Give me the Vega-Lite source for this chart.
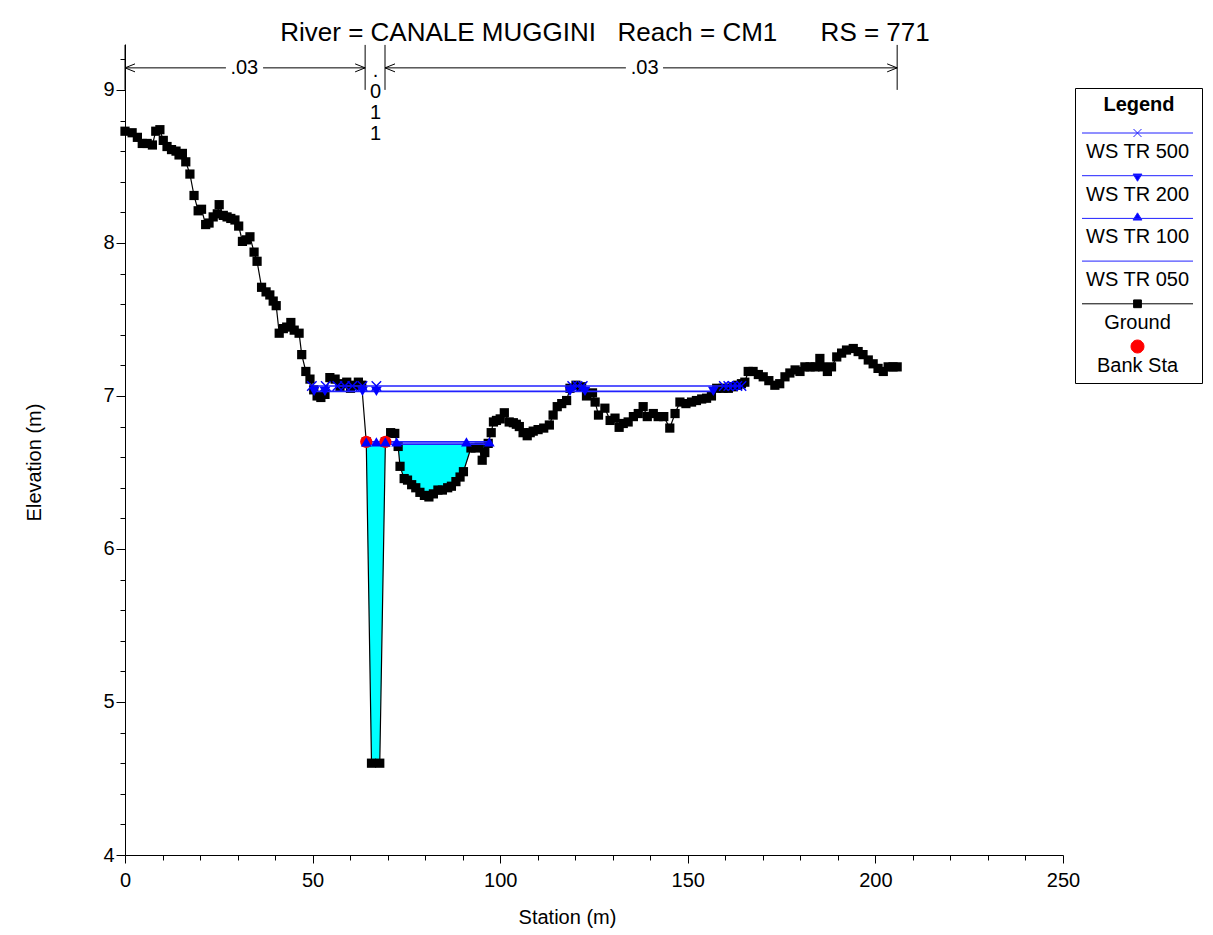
{
  "$schema": "https://vega.github.io/schema/vega-lite/v6.json",
  "width": 938,
  "height": 811,
  "autosize": "none",
  "padding": {"left": 125, "top": 44, "right": 150, "bottom": 80},
  "background": "white",
  "title": {
    "text": "River = CANALE MUGGINI\u00a0\u00a0\u00a0Reach = CM1\u00a0\u00a0\u00a0\u00a0\u00a0\u00a0RS = 771",
    "fontSize": 26,
    "font": "Liberation Sans",
    "fontWeight": "normal",
    "color": "black",
    "anchor": "middle",
    "frame": "group",
    "baseline": "alphabetic",
    "offset": 4,
    "dx": 11,
    "dy": 27
  },
  "config": {
    "view": {"stroke": null},
    "font": "Liberation Sans",
    "axis": {
      "domainColor": "black",
      "tickColor": "black",
      "labelColor": "black",
      "titleColor": "black",
      "labelFontSize": 20,
      "titleFontSize": 20,
      "titleFontWeight": "normal",
      "labelFont": "Liberation Sans",
      "titleFont": "Liberation Sans",
      "domainWidth": 1,
      "tickWidth": 1,
      "grid": false
    }
  },
  "datasets": {
    "ground": [
      {"st": 0.0, "el": 8.73}, {"st": 1.9, "el": 8.72}, {"st": 3.3, "el": 8.69}, {"st": 4.6, "el": 8.65},
      {"st": 5.9, "el": 8.65}, {"st": 7.3, "el": 8.64}, {"st": 8.2, "el": 8.73}, {"st": 9.3, "el": 8.74},
      {"st": 10.2, "el": 8.67}, {"st": 11.2, "el": 8.63}, {"st": 12.4, "el": 8.61}, {"st": 13.6, "el": 8.6},
      {"st": 14.4, "el": 8.575}, {"st": 15.3, "el": 8.585}, {"st": 16.2, "el": 8.53}, {"st": 17.3, "el": 8.45},
      {"st": 18.4, "el": 8.31}, {"st": 19.5, "el": 8.21}, {"st": 20.4, "el": 8.22}, {"st": 21.5, "el": 8.12},
      {"st": 22.4, "el": 8.13}, {"st": 23.5, "el": 8.17}, {"st": 24.6, "el": 8.19}, {"st": 25.1, "el": 8.25},
      {"st": 26.2, "el": 8.18}, {"st": 27.2, "el": 8.17}, {"st": 28.2, "el": 8.16}, {"st": 29.3, "el": 8.15},
      {"st": 30.3, "el": 8.11}, {"st": 31.3, "el": 8.01}, {"st": 32.4, "el": 8.02}, {"st": 33.3, "el": 8.04},
      {"st": 34.4, "el": 7.94}, {"st": 35.2, "el": 7.88}, {"st": 36.4, "el": 7.71}, {"st": 37.6, "el": 7.68},
      {"st": 38.6, "el": 7.66}, {"st": 39.5, "el": 7.62}, {"st": 40.3, "el": 7.59}, {"st": 41.1, "el": 7.41},
      {"st": 42.2, "el": 7.44}, {"st": 43.1, "el": 7.45}, {"st": 44.2, "el": 7.48}, {"st": 45.1, "el": 7.43},
      {"st": 46.4, "el": 7.41}, {"st": 47.1, "el": 7.27}, {"st": 48.2, "el": 7.16}, {"st": 49.3, "el": 7.11},
      {"st": 50.3, "el": 7.04}, {"st": 51.2, "el": 7.0}, {"st": 52.2, "el": 6.99}, {"st": 53.3, "el": 7.01},
      {"st": 54.6, "el": 7.12}, {"st": 56.0, "el": 7.11}, {"st": 57.3, "el": 7.06}, {"st": 58.2, "el": 7.08},
      {"st": 59.1, "el": 7.09}, {"st": 60.1, "el": 7.05}, {"st": 61.2, "el": 7.07}, {"st": 62.2, "el": 7.09},
      {"st": 63.1, "el": 7.07}, {"st": 64.3, "el": 6.7}, {"st": 65.7, "el": 4.6}, {"st": 67.9, "el": 4.6},
      {"st": 69.4, "el": 6.7}, {"st": 70.8, "el": 6.76}, {"st": 71.9, "el": 6.755}, {"st": 72.8, "el": 6.67},
      {"st": 73.3, "el": 6.54}, {"st": 74.4, "el": 6.46}, {"st": 75.3, "el": 6.45}, {"st": 76.4, "el": 6.42},
      {"st": 77.5, "el": 6.4}, {"st": 78.6, "el": 6.37}, {"st": 79.8, "el": 6.35}, {"st": 81.0, "el": 6.34},
      {"st": 82.2, "el": 6.36}, {"st": 83.4, "el": 6.385}, {"st": 84.6, "el": 6.385}, {"st": 86.0, "el": 6.4},
      {"st": 87.0, "el": 6.41}, {"st": 88.2, "el": 6.44}, {"st": 89.3, "el": 6.47}, {"st": 90.2, "el": 6.505},
      {"st": 92.2, "el": 6.66}, {"st": 93.4, "el": 6.66}, {"st": 94.4, "el": 6.665}, {"st": 95.2, "el": 6.58},
      {"st": 95.9, "el": 6.63}, {"st": 96.8, "el": 6.69}, {"st": 97.6, "el": 6.76}, {"st": 98.2, "el": 6.83},
      {"st": 99.0, "el": 6.84}, {"st": 100.0, "el": 6.85}, {"st": 101.1, "el": 6.89}, {"st": 102.4, "el": 6.83},
      {"st": 103.5, "el": 6.825}, {"st": 104.3, "el": 6.815}, {"st": 105.1, "el": 6.8}, {"st": 106.1, "el": 6.76},
      {"st": 107.2, "el": 6.74}, {"st": 108.0, "el": 6.76}, {"st": 108.8, "el": 6.77}, {"st": 110.1, "el": 6.78},
      {"st": 111.6, "el": 6.79}, {"st": 113.1, "el": 6.81}, {"st": 114.1, "el": 6.875}, {"st": 115.2, "el": 6.93},
      {"st": 116.4, "el": 6.95}, {"st": 117.7, "el": 6.97}, {"st": 118.6, "el": 7.05}, {"st": 120.2, "el": 7.07},
      {"st": 121.7, "el": 7.06}, {"st": 123.0, "el": 7.0}, {"st": 124.6, "el": 7.02}, {"st": 125.3, "el": 6.96},
      {"st": 126.2, "el": 6.875}, {"st": 127.9, "el": 6.92}, {"st": 129.3, "el": 6.84}, {"st": 130.6, "el": 6.855},
      {"st": 131.7, "el": 6.795}, {"st": 132.8, "el": 6.82}, {"st": 134.1, "el": 6.83}, {"st": 135.5, "el": 6.865},
      {"st": 136.8, "el": 6.885}, {"st": 138.1, "el": 6.93}, {"st": 139.2, "el": 6.865}, {"st": 140.8, "el": 6.885},
      {"st": 142.1, "el": 6.865}, {"st": 143.6, "el": 6.865}, {"st": 145.2, "el": 6.79}, {"st": 146.6, "el": 6.885},
      {"st": 147.9, "el": 6.96}, {"st": 149.5, "el": 6.95}, {"st": 151.0, "el": 6.96}, {"st": 152.3, "el": 6.97},
      {"st": 153.7, "el": 6.98}, {"st": 155.0, "el": 6.985}, {"st": 156.3, "el": 7.0}, {"st": 157.7, "el": 7.05},
      {"st": 159.4, "el": 7.05}, {"st": 160.8, "el": 7.05}, {"st": 162.1, "el": 7.06}, {"st": 163.3, "el": 7.07},
      {"st": 164.3, "el": 7.08}, {"st": 165.2, "el": 7.09}, {"st": 166.1, "el": 7.16}, {"st": 167.4, "el": 7.16},
      {"st": 168.8, "el": 7.14}, {"st": 170.1, "el": 7.125}, {"st": 171.6, "el": 7.1}, {"st": 173.2, "el": 7.07},
      {"st": 174.5, "el": 7.08}, {"st": 175.9, "el": 7.125}, {"st": 177.2, "el": 7.15}, {"st": 178.6, "el": 7.17},
      {"st": 179.9, "el": 7.16}, {"st": 181.2, "el": 7.19}, {"st": 182.6, "el": 7.19}, {"st": 183.9, "el": 7.19},
      {"st": 185.2, "el": 7.245}, {"st": 185.9, "el": 7.19}, {"st": 187.2, "el": 7.16}, {"st": 188.3, "el": 7.19},
      {"st": 189.7, "el": 7.255}, {"st": 191.0, "el": 7.28}, {"st": 192.3, "el": 7.3}, {"st": 194.1, "el": 7.31},
      {"st": 195.4, "el": 7.29}, {"st": 196.7, "el": 7.27}, {"st": 198.1, "el": 7.235}, {"st": 199.4, "el": 7.21},
      {"st": 200.7, "el": 7.18}, {"st": 202.1, "el": 7.16}, {"st": 203.4, "el": 7.19}, {"st": 204.7, "el": 7.19},
      {"st": 205.8, "el": 7.19}
    ],
    "fill": [
      {"seg": "slot", "st": 64.31, "el": 6.685, "ws": 6.685},
      {"seg": "slot", "st": 65.7, "el": 4.6, "ws": 6.685},
      {"seg": "slot", "st": 67.9, "el": 4.6, "ws": 6.685},
      {"seg": "slot", "st": 69.39, "el": 6.685, "ws": 6.685},
      {"seg": "bowl", "st": 72.64, "el": 6.685, "ws": 6.685},
      {"seg": "bowl", "st": 72.8, "el": 6.67, "ws": 6.685},
      {"seg": "bowl", "st": 73.3, "el": 6.54, "ws": 6.685},
      {"seg": "bowl", "st": 74.4, "el": 6.46, "ws": 6.685},
      {"seg": "bowl", "st": 75.3, "el": 6.45, "ws": 6.685},
      {"seg": "bowl", "st": 76.4, "el": 6.42, "ws": 6.685},
      {"seg": "bowl", "st": 77.5, "el": 6.4, "ws": 6.685},
      {"seg": "bowl", "st": 78.6, "el": 6.37, "ws": 6.685},
      {"seg": "bowl", "st": 79.8, "el": 6.35, "ws": 6.685},
      {"seg": "bowl", "st": 81.0, "el": 6.34, "ws": 6.685},
      {"seg": "bowl", "st": 82.2, "el": 6.36, "ws": 6.685},
      {"seg": "bowl", "st": 83.4, "el": 6.385, "ws": 6.685},
      {"seg": "bowl", "st": 84.6, "el": 6.385, "ws": 6.685},
      {"seg": "bowl", "st": 86.0, "el": 6.4, "ws": 6.685},
      {"seg": "bowl", "st": 87.0, "el": 6.41, "ws": 6.685},
      {"seg": "bowl", "st": 88.2, "el": 6.44, "ws": 6.685},
      {"seg": "bowl", "st": 89.3, "el": 6.47, "ws": 6.685},
      {"seg": "bowl", "st": 90.2, "el": 6.505, "ws": 6.685},
      {"seg": "bowl", "st": 92.2, "el": 6.66, "ws": 6.685},
      {"seg": "bowl", "st": 93.4, "el": 6.66, "ws": 6.685},
      {"seg": "bowl", "st": 94.4, "el": 6.665, "ws": 6.685},
      {"seg": "bowl", "st": 95.2, "el": 6.58, "ws": 6.685},
      {"seg": "bowl", "st": 95.9, "el": 6.63, "ws": 6.685},
      {"seg": "bowl", "st": 96.73, "el": 6.685, "ws": 6.685}
    ],
    "ws": [
      {"series": "WS TR 500", "st": 49.8, "el": 7.065}, {"series": "WS TR 500", "st": 53.5, "el": 7.065},
      {"series": "WS TR 500", "st": 56.6, "el": 7.065}, {"series": "WS TR 500", "st": 58.6, "el": 7.065},
      {"series": "WS TR 500", "st": 60.6, "el": 7.065}, {"series": "WS TR 500", "st": 63.3, "el": 7.065},
      {"series": "WS TR 500", "st": 67.0, "el": 7.065}, {"series": "WS TR 500", "st": 119.2, "el": 7.065},
      {"series": "WS TR 500", "st": 120.6, "el": 7.065}, {"series": "WS TR 500", "st": 122.0, "el": 7.065},
      {"series": "WS TR 500", "st": 159.6, "el": 7.065}, {"series": "WS TR 500", "st": 160.8, "el": 7.065},
      {"series": "WS TR 500", "st": 162.0, "el": 7.065}, {"series": "WS TR 500", "st": 163.2, "el": 7.065},
      {"series": "WS TR 500", "st": 164.3, "el": 7.065},
      {"series": "WS TR 200", "st": 50.4, "el": 7.03}, {"series": "WS TR 200", "st": 53.3, "el": 7.03},
      {"series": "WS TR 200", "st": 63.3, "el": 7.03}, {"series": "WS TR 200", "st": 67.0, "el": 7.03},
      {"series": "WS TR 200", "st": 118.6, "el": 7.03}, {"series": "WS TR 200", "st": 122.6, "el": 7.03},
      {"series": "WS TR 200", "st": 156.8, "el": 7.03},
      {"series": "WS TR 100", "st": 64.3, "el": 6.7}, {"series": "WS TR 100", "st": 67.0, "el": 6.7},
      {"series": "WS TR 100", "st": 69.4, "el": 6.7}, {"series": "WS TR 100", "st": 72.4, "el": 6.7},
      {"series": "WS TR 100", "st": 91.0, "el": 6.7}, {"series": "WS TR 100", "st": 97.1, "el": 6.7},
      {"series": "WS TR 050", "st": 64.31, "el": 6.685}, {"series": "WS TR 050", "st": 96.73, "el": 6.685}
    ],
    "bank": [
      {"st": 64.3, "el": 6.7}, {"st": 69.4, "el": 6.7}
    ],
    "nlines": [
      {"st": 0, "el": 9.0, "el2": 9.294}, {"st": 64.0, "el": 9.0, "el2": 9.294},
      {"st": 69.3, "el": 9.0, "el2": 9.294}, {"st": 205.8, "el": 9.0, "el2": 9.294}
    ],
    "narrows": [
      {"st": 0, "st2": 26.9, "el": 9.144}, {"st": 36.8, "st2": 64.0, "el": 9.144},
      {"st": 69.3, "st2": 133.5, "el": 9.144}, {"st": 143.4, "st2": 205.8, "el": 9.144}
    ],
    "nheads": [
      {"st": 0, "el": 9.144, "dir": "L"}, {"st": 64.0, "el": 9.144, "dir": "R"},
      {"st": 69.3, "el": 9.144, "dir": "L"}, {"st": 205.8, "el": 9.144, "dir": "R"}
    ],
    "ntext": [
      {"st": 31.8, "el": 9.144, "t": ".03"}, {"st": 138.5, "el": 9.144, "t": ".03"},
      {"st": 66.8, "el": 9.124, "t": "."}, {"st": 66.8, "el": 8.987, "t": "0"},
      {"st": 66.8, "el": 8.85, "t": "1"}, {"st": 66.8, "el": 8.712, "t": "1"}
    ]
  },
  "encoding": {
    "x": {
      "field": "st",
      "type": "quantitative",
      "scale": {"domain": [0, 250], "nice": false, "zero": false},
      "axis": {
        "title": "Station (m)",
        "values": [0, 10, 20, 30, 40, 50, 60, 70, 80, 90, 100, 110, 120, 130, 140, 150, 160, 170, 180, 190, 200, 210, 220, 230, 240, 250],
        "labelExpr": "datum.value % 50 === 0 ? datum.label : ''",
        "tickSize": {"condition": {"test": "datum.value % 50 === 0", "value": 8}, "value": 5},
        "labelFlush": false,
        "labelOverlap": false,
        "labelPadding": 7,
        "titleX": 442,
        "titleY": 62,
        "titleBaseline": "middle",
        "titleAlign": "center"
      }
    },
    "y": {
      "field": "el",
      "type": "quantitative",
      "scale": {"domain": [4, 9.3], "nice": false, "zero": false},
      "axis": {
        "title": "Elevation (m)",
        "values": [4, 4.2, 4.4, 4.6, 4.8, 5, 5.2, 5.4, 5.6, 5.8, 6, 6.2, 6.4, 6.6, 6.8, 7, 7.2, 7.4, 7.6, 7.8, 8, 8.2, 8.4, 8.6, 8.8, 9, 9.2],
        "labelExpr": "abs(datum.value - round(datum.value)) < 0.01 ? '' + round(datum.value) : ''",
        "tickSize": {"condition": {"test": "abs(datum.value - round(datum.value)) < 0.01", "value": 9}, "value": 5},
        "labelOverlap": false,
        "labelPadding": 2,
        "titleX": -91,
        "titleY": 418,
        "titleBaseline": "middle",
        "titleAlign": "center"
      }
    }
  },
  "layer": [
    {
      "data": {"name": "fill"},
      "mark": {"type": "area", "color": "#00ffff", "opacity": 1},
      "encoding": {"y2": {"field": "ws"}, "detail": {"field": "seg", "type": "nominal"}}
    },
    {
      "data": {"name": "ground"},
      "mark": {"type": "line", "color": "black", "strokeWidth": 1.2}
    },
    {
      "data": {"name": "ground"},
      "mark": {"type": "point", "shape": "square", "filled": true, "color": "black", "size": 85, "opacity": 1}
    },
    {
      "data": {"name": "ws"},
      "mark": {"type": "line", "strokeWidth": 1.6},
      "encoding": {
        "color": {
          "field": "series",
          "type": "nominal",
          "scale": {
            "domain": ["WS TR 500", "WS TR 200", "WS TR 100", "WS TR 050", "Ground", "Bank Sta"],
            "range": ["#2020ff", "#2020ff", "#2020ff", "#2020ff", "black", "red"]
          },
          "legend": {
            "title": "Legend",
            "orient": "none",
            "legendX": 950,
            "legendY": 44,
            "padding": 7,
            "strokeColor": "black",
            "fillColor": "white",
            "titleFont": "Liberation Sans",
            "titleFontSize": 20,
            "titleFontWeight": "bold",
            "titleColor": "black",
            "titleAnchor": "middle",
            "titlePadding": 18,
            "labelFont": "Liberation Sans",
            "labelFontSize": 20,
            "labelColor": "black",
            "rowPadding": 4.7,
            "symbolSize": 100,
            "encode": {
              "symbols": {
                "update": {
                  "shape": {"signal": "datum.value === 'WS TR 500' ? 'M0,-0.12M0,0.12M-1,0L1,0M-0.072,-0.072L0.072,0.072M-0.072,0.072L0.072,-0.072' : datum.value === 'WS TR 200' ? 'M0,-0.12M0,0.12M-1,0L1,0M-0.08,-0.03L0.08,-0.03L0,0.1Z' : datum.value === 'WS TR 100' ? 'M0,-0.12M0,0.12M-1,0L1,0M-0.08,0.03L0.08,0.03L0,-0.1Z' : datum.value === 'WS TR 050' ? 'M0,-0.12M0,0.12M-1,0L1,0' : datum.value === 'Ground' ? 'M0,-0.12M0,0.12M-1,0L1,0M-0.07,-0.07L0.07,-0.07L0.07,0.07L-0.07,0.07Z' : 'M0,-0.12M0,0.12M-0.117,0A0.117,0.117,0,1,0,0.117,0A0.117,0.117,0,1,0,-0.117,0Z'"},
                  "size": {"value": 12321},
                  "x": {"value": 55.5},
                  "y": {"value": 0},
                  "fill": {"signal": "datum.value === 'Ground' ? 'black' : datum.value === 'Bank Sta' ? 'red' : '#0000ff'"},
                  "stroke": {"signal": "datum.value === 'Ground' ? 'black' : datum.value === 'Bank Sta' ? 'red' : '#0000ff'"},
                  "strokeWidth": {"value": 1},
                  "opacity": {"value": 1}
                }
              },
              "labels": {
                "update": {
                  "x": {"value": 55.5},
                  "y": {"value": 19},
                  "align": {"value": "center"},
                  "baseline": {"value": "middle"}
                }
              }
            }
          }
        }
      }
    },
    {
      "data": {"name": "bank"},
      "mark": {"type": "point", "shape": "circle", "filled": true, "color": "red", "size": 150, "opacity": 1}
    },
    {
      "data": {"name": "ws"},
      "transform": [{"filter": "datum.series === 'WS TR 500'"}],
      "mark": {"type": "point", "shape": "M-1,-1L1,1M-1,1L1,-1", "filled": false, "color": "#0000ff", "strokeWidth": 1.4, "size": 90, "opacity": 1}
    },
    {
      "data": {"name": "ws"},
      "transform": [{"filter": "datum.series === 'WS TR 200'"}],
      "mark": {"type": "point", "shape": "triangle-down", "filled": true, "color": "#0000ff", "size": 115, "opacity": 1}
    },
    {
      "data": {"name": "ws"},
      "transform": [{"filter": "datum.series === 'WS TR 100'"}],
      "mark": {"type": "point", "shape": "triangle-up", "filled": true, "color": "#0000ff", "size": 115, "opacity": 1}
    },
    {
      "data": {"name": "nlines"},
      "mark": {"type": "rule", "color": "black", "strokeWidth": 1},
      "encoding": {"y2": {"field": "el2"}}
    },
    {
      "data": {"name": "narrows"},
      "mark": {"type": "rule", "color": "black", "strokeWidth": 1},
      "encoding": {"x2": {"field": "st2"}}
    },
    {
      "data": {"name": "nheads"},
      "mark": {"type": "point", "filled": false, "color": "black", "strokeWidth": 1, "size": 100, "opacity": 1},
      "encoding": {
        "shape": {
          "field": "dir",
          "type": "nominal",
          "scale": {"domain": ["L", "R"], "range": ["M2,-0.8L0,0L2,0.8", "M-2,-0.8L0,0L-2,0.8"]},
          "legend": null
        }
      }
    },
    {
      "data": {"name": "ntext"},
      "mark": {"type": "text", "font": "Liberation Sans", "fontSize": 20, "color": "black", "align": "center", "baseline": "middle"},
      "encoding": {"text": {"field": "t", "type": "nominal"}}
    }
  ]
}
